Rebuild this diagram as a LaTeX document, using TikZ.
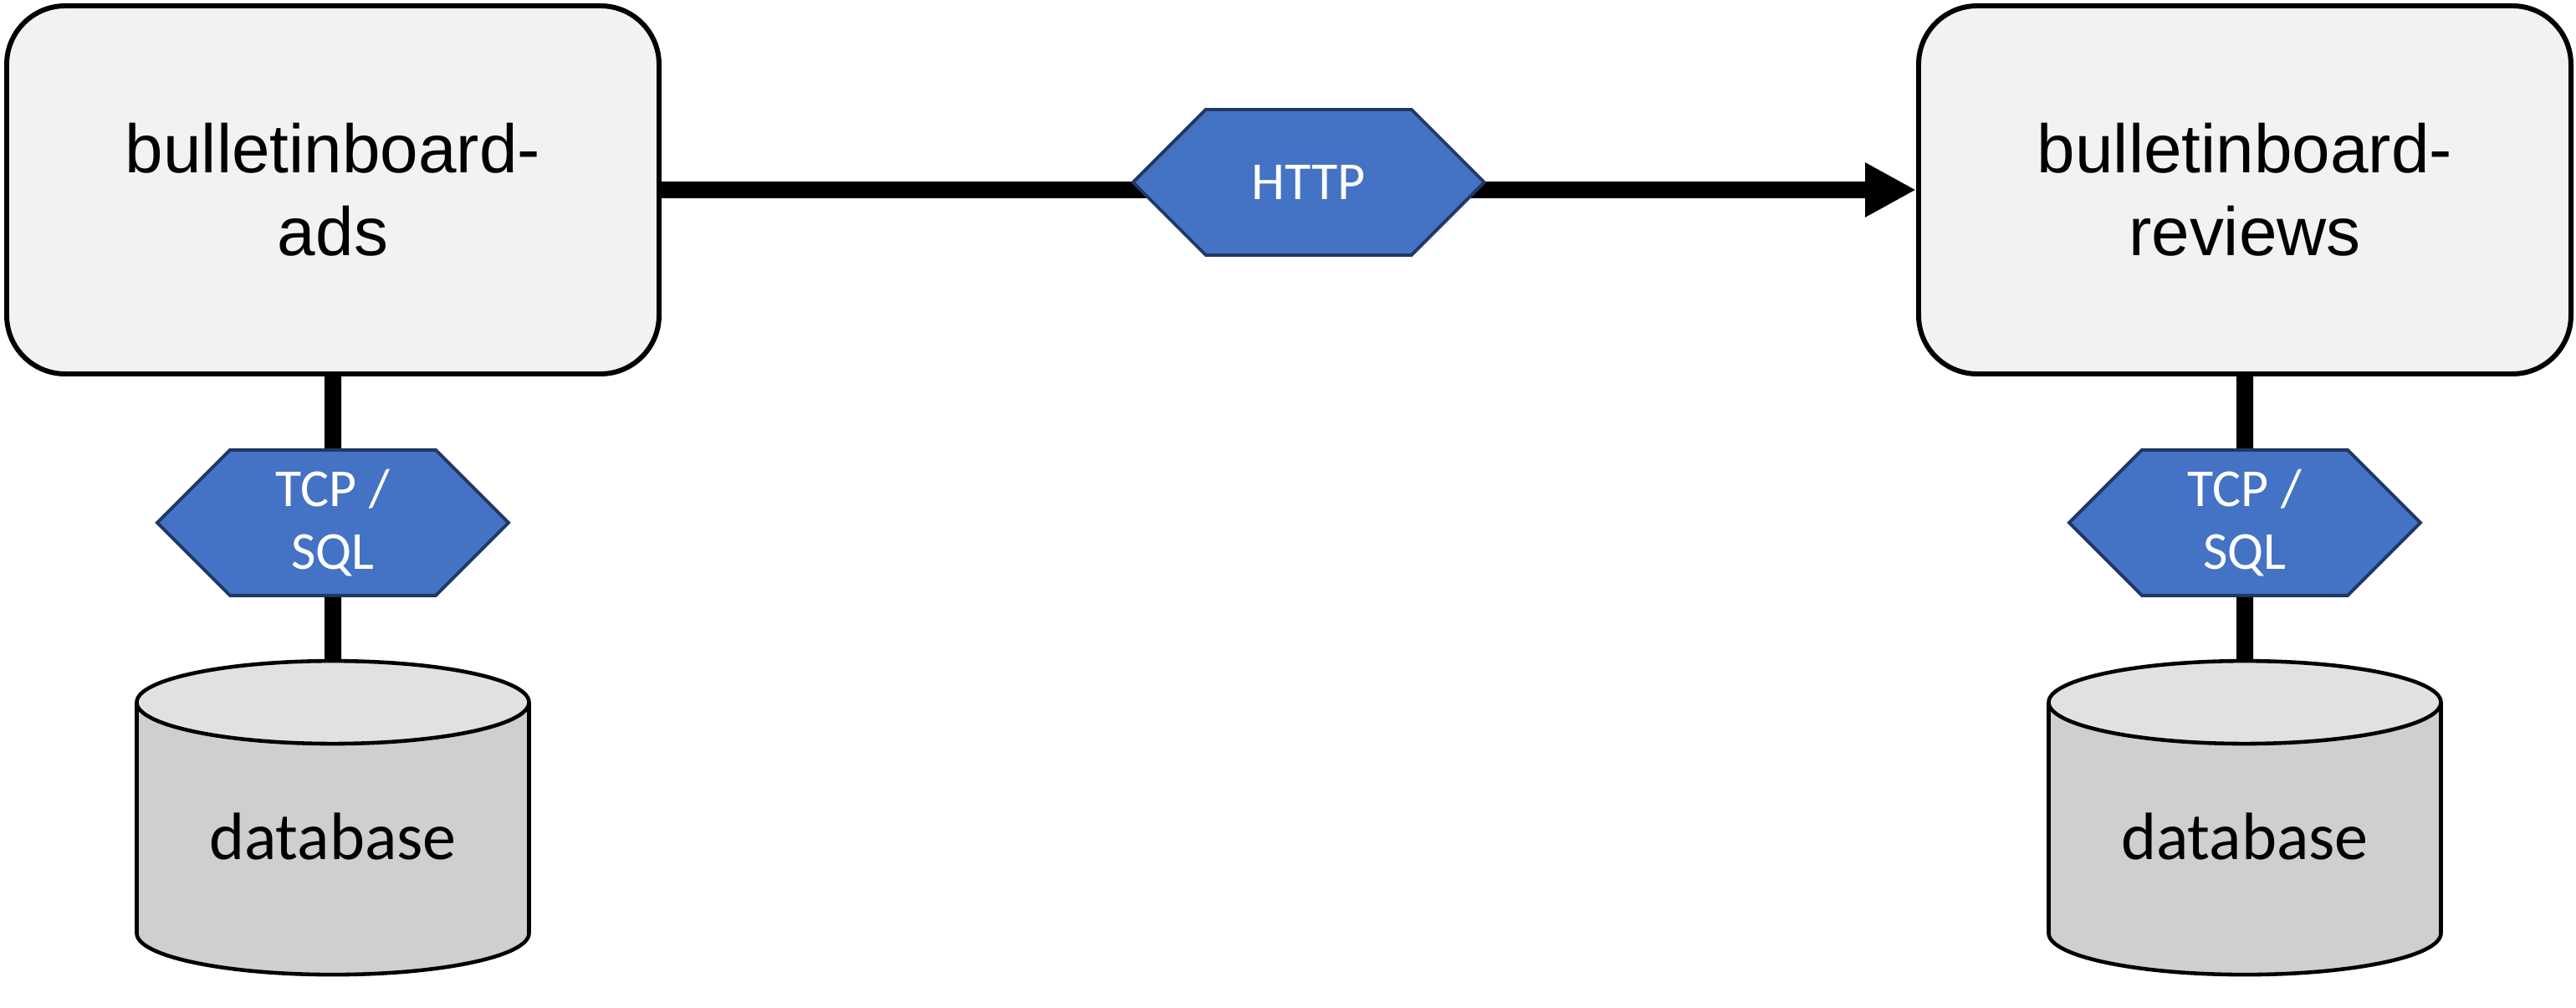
\documentclass[tikz,border=0pt]{standalone}
\usepackage{fontspec}
\setmainfont{Liberation Sans}
\newfontfamily\calibri{Carlito}
\usetikzlibrary{arrows.meta, positioning, shapes.geometric, shapes.symbols, backgrounds}

\definecolor{boxgray}{HTML}{F2F2F2}
\definecolor{protoblue}{HTML}{4472C4}
\definecolor{protoedge}{HTML}{203864}
\definecolor{dbbody}{HTML}{D0CECE}
\definecolor{dbtop}{HTML}{E1E1E1}

\begin{document}
\begin{tikzpicture}[
    service/.style={draw, line width=1.7pt, rounded corners=0.7cm, fill=boxgray,
                    minimum width=7.8cm, minimum height=4.4cm, align=center,
                    font=\fontsize{23.3}{28.2}\selectfont},
    proto/.style={shape=signal, signal to=east and west, signal pointer angle=90,
                  draw=protoedge, line width=1.1pt, fill=protoblue, text=white,
                  minimum width=4.2cm, minimum height=1.74cm, inner sep=0pt,
                  align=center, font=\calibri\fontsize{18.2}{21.3}\selectfont},
    store/.style={cylinder, shape border rotate=90, aspect=0.31, draw, line width=1.3pt,
                  cylinder uses custom fill, cylinder body fill=dbbody,
                  cylinder end fill=dbtop, minimum width=4.69cm, minimum height=3.75cm,
                  text depth=0.24cm, font=\calibri\fontsize{22.8}{27}\selectfont},
    link/.style={line width=0.2cm},
    node distance=0.86cm and 15cm
  ]
  \useasboundingbox (0,0) rectangle (30.8,-12.05);

  \node[service] (ads) at (3.98,-2.27) {bulletinboard-\\ads};
  \node[service, right=of ads] (reviews) {bulletinboard-\\reviews};
  \node[proto, right=5.61cm of ads, yshift=0.09cm] (http) {HTTP};

  \node[proto, below=of ads] (sqlads) {TCP /\\SQL};
  \node[store, below=0.74cm of sqlads] (dbads) {database};
  \node[proto, below=of reviews] (sqlreviews) {TCP /\\SQL};
  \node[store, below=0.74cm of sqlreviews] (dbreviews) {database};

  \begin{scope}[on background layer]
    \draw[link, -{Triangle[length=0.61cm, width=0.61cm]}] (ads) -- (reviews);
  \end{scope}
  \draw[link] (ads) -- (sqlads);
  \draw[link] (sqlads) -- (dbads);
  \draw[link] (reviews) -- (sqlreviews);
  \draw[link] (sqlreviews) -- (dbreviews);

\end{tikzpicture}
\end{document}
